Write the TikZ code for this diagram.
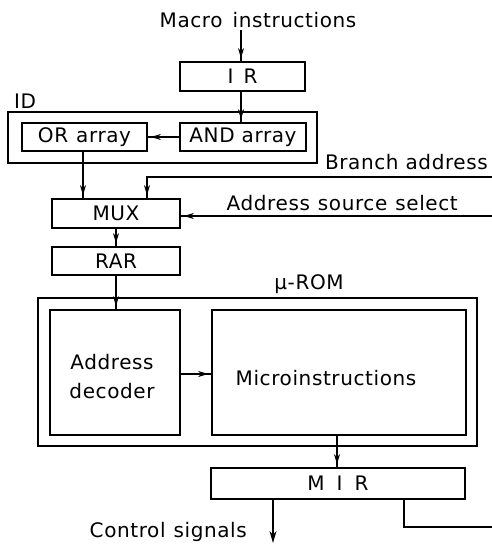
\documentclass[tikz,border=0pt]{standalone}
\usepackage{fontspec}
\setmainfont{DejaVu Sans}[LetterSpace=3]
\usetikzlibrary{arrows.meta,decorations.markings}

\begin{document}
\begin{tikzpicture}[x=1pt,y=-1pt,
  blk/.style={draw,line width=1.8pt,inner sep=0pt},
  wire/.style={line width=1.6pt},
  lbl/.style={inner sep=0pt,font=\fontsize{20}{24}\selectfont},
  flow/.style={wire,postaction={decorate},decoration={markings,
      mark=at position -3pt with {\arrow{Stealth[length=10pt,width=6pt]}}}},
  tipflow/.style={wire,-{Stealth[length=12pt,width=7pt]}}]
\useasboundingbox (0,0) rectangle (492,544);

% registers and arrays
\node[blk,minimum width=125pt,minimum height=29pt] (ir) at (242.5,76.5) {};
\node[lbl] at (ir) {I\hspace{10pt}R};
\draw[line width=1.8pt] (8,112) rectangle (317,163);
\node[lbl,anchor=west] (idl) at (14,101) {ID};
\node[blk,minimum width=125pt,minimum height=28pt] (or) at (84.5,137) {};
\node[lbl] at (or) {OR\hspace{8pt}array};
\node[blk,minimum width=126pt,minimum height=28pt] (and) at (243,137) {};
\node[lbl] at (and) {AND array};
\node[blk,minimum width=128pt,minimum height=29pt] (mux) at (116,213.5) {};
\node[lbl] at (mux) {MUX};
\node[blk,minimum width=128pt,minimum height=28pt] (rar) at (116,261) {};
\node[lbl] at (rar) {RAR};

% micro-ROM
\draw[line width=1.8pt] (38,298) rectangle (477,446);
\node[lbl] (rom) at (309,284) {μ-ROM};
\node[blk,minimum width=130pt,minimum height=125pt] (dec) at (115,372.5) {};
\node[lbl,align=center] at (112,377) {Address\\[5pt]decoder};
\node[blk,minimum width=254pt,minimum height=125pt] (mi) at (339,372.5) {};
\node[lbl] at (326,378) {Microinstructions};
\node[blk,minimum width=254pt,minimum height=31pt] (mir) at (338,483.5) {};
\node[lbl] at (mir) {M\hspace{12pt}I\hspace{12pt}R};

% external labels
\node[lbl] (mac) at (258,20) {Macro\hspace{10pt}instructions};
\node[lbl,anchor=east] (bra) at (488,162) {Branch address};
\node[lbl,anchor=east] (ass) at (458,203) {Address\hspace{8pt}source\hspace{8pt}select};
\node[lbl,anchor=east] (cs) at (247,532) {Control\hspace{8pt}signals};

\coordinate (macin) at (241,30);
\coordinate (brin) at (492,177);
\coordinate (brk) at (147,177);
\coordinate (selin) at (492,216);
\coordinate (csout) at (273,543);
\coordinate (fbk) at (404,527);
\coordinate (fbout) at (492,527);

% connectors
\draw[flow] (macin) -- (macin |- ir.north);
\draw[flow] (ir.south -| macin) -- (and.north -| macin);
\draw[flow] (and.west) -- (or.east);
\draw[flow] (or.south -| 83,0) -- (mux.north -| 83,0);
\draw[flow] (brin) -- (brk) -- (brk |- mux.north);
\draw[flow] (selin) -- (selin -| mux.east);
\draw[flow] (mux.south) -- (rar.north);
\draw[flow] (rar.south) -- (dec.north -| rar.south);
\draw[flow] (dec.east |- 0,374) -- (mi.west |- 0,374);
\draw[flow] (mi.south -| 337,0) -- (mir.north -| 337,0);
\draw[tipflow] (mir.south -| csout) -- (csout);
\draw[wire] (mir.south -| fbk) -- (fbk) -- (fbout);
\end{tikzpicture}
\end{document}
